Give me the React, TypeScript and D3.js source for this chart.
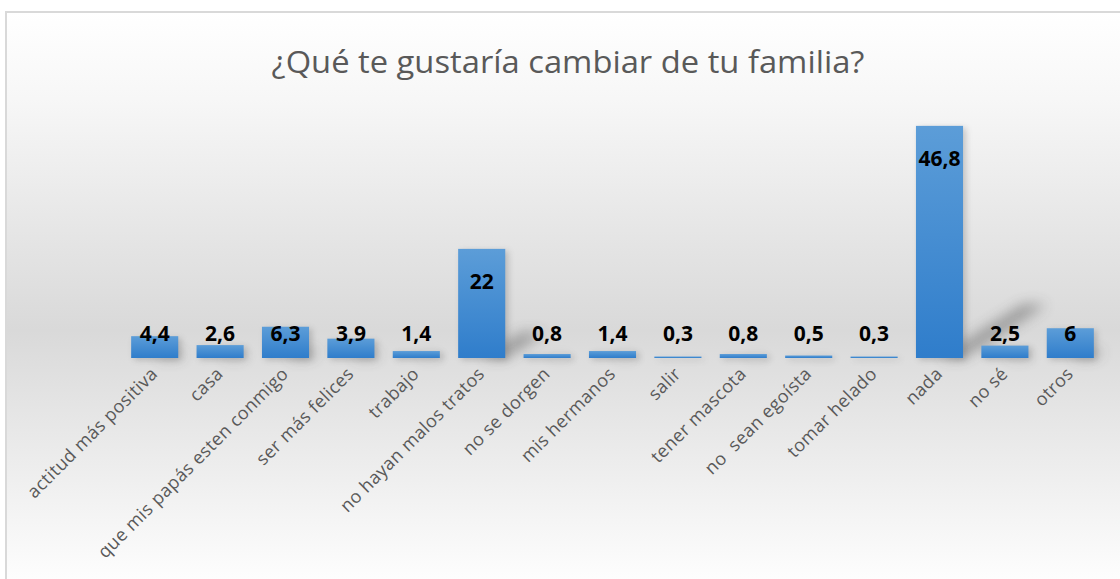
import React from 'react';
import * as d3 from 'd3';

const title = '¿Qué te gustaría cambiar de tu familia?';

const categories = [
  'actitud más positiva',
  'casa',
  'que mis papás esten conmigo',
  'ser más felices',
  'trabajo',
  'no hayan malos tratos',
  'no se dorgen',
  'mis hermanos',
  'salir',
  'tener mascota',
  'no  sean egoísta',
  'tomar helado',
  'nada',
  'no sé',
  'otros',
];

const values = [4.4, 2.6, 6.3, 3.9, 1.4, 22, 0.8, 1.4, 0.3, 0.8, 0.5, 0.3, 46.8, 2.5, 6];

const width = 1120;
const height = 579;

export default function App() {
  const ref = React.useRef<SVGSVGElement>(null);

  React.useEffect(() => {
    const svg = d3.select(ref.current);
    svg.selectAll('*').remove();

    const marginLeft = 122, marginRight = 17, baseline = 358, plotTop = 110;

    const x = d3.scaleBand<string>()
      .domain(categories)
      .range([marginLeft, width - marginRight])
      .paddingInner(0.28)
      .paddingOuter(0.14);
    const y = d3.scaleLinear().domain([0, 50]).range([baseline, plotTop]);

    const defs = svg.append('defs');
    // chart area background: white -> gray -> white
    const bg = defs.append('linearGradient').attr('id', 'bg')
      .attr('x1', 0).attr('y1', 0).attr('x2', 0).attr('y2', 1);
    bg.append('stop').attr('offset', '0%').attr('stop-color', '#ffffff');
    bg.append('stop').attr('offset', '15%').attr('stop-color', '#f7f7f7');
    bg.append('stop').attr('offset', '55%').attr('stop-color', '#d9d9d9');
    bg.append('stop').attr('offset', '70%').attr('stop-color', '#e6e6e6');
    bg.append('stop').attr('offset', '100%').attr('stop-color', '#ffffff');

    const barGrad = defs.append('linearGradient').attr('id', 'barGrad')
      .attr('x1', 0).attr('y1', 0).attr('x2', 0).attr('y2', 1);
    barGrad.append('stop').attr('offset', '0%').attr('stop-color', '#5c9dd8');
    barGrad.append('stop').attr('offset', '100%').attr('stop-color', '#2f7dcb');

    const blur = defs.append('filter').attr('id', 'blur')
      .attr('x', '-50%').attr('y', '-50%').attr('width', '200%').attr('height', '200%');
    blur.append('feGaussianBlur').attr('stdDeviation', 7);

    const soft = defs.append('filter').attr('id', 'soft')
      .attr('x', '-50%').attr('y', '-50%').attr('width', '200%').attr('height', '200%');
    soft.append('feGaussianBlur').attr('stdDeviation', 3);

    svg.append('rect')
      .attr('x', 6).attr('y', 12)
      .attr('width', width).attr('height', height)
      .attr('fill', 'url(#bg)')
      .attr('stroke', '#d9d9d9')
      .attr('stroke-width', 2);

    svg.append('text')
      .attr('x', 568).attr('y', 73)
      .attr('text-anchor', 'middle')
      .attr('font-family', 'Open Sans, sans-serif')
      .attr('font-size', 31)
      .attr('textLength', 593)
      .attr('lengthAdjust', 'spacingAndGlyphs')
      .attr('fill', '#595959')
      .text(title);

    // perspective shadows behind bars
    const shadows = svg.append('g').attr('filter', 'url(#blur)').attr('opacity', 0.45);
    values.forEach((v, i) => {
      const h = baseline - y(v);
      const x0 = x(categories[i])! + x.bandwidth();
      const dx = h * 0.36, dy = h * 0.23;
      const w = x.bandwidth() * 0.5;
      shadows.append('path')
        .attr('d', `M${x0 - w},${baseline} L${x0},${baseline} L${x0 + dx},${baseline - dy} L${x0 + dx - w},${baseline - dy}Z`)
        .attr('fill', '#404040');
    });

    svg.append('g').attr('filter', 'url(#soft)').attr('opacity', 0.25)
      .selectAll('rect')
      .data(values)
      .join('rect')
      .attr('x', (_, i) => x(categories[i])! + 3)
      .attr('y', d => y(d) + 2)
      .attr('width', x.bandwidth())
      .attr('height', d => baseline - y(d))
      .attr('fill', '#404040');

    svg.append('g')
      .selectAll('rect')
      .data(values)
      .join('rect')
      .attr('x', (_, i) => x(categories[i])!)
      .attr('y', d => y(d))
      .attr('width', x.bandwidth())
      .attr('height', d => baseline - y(d))
      .attr('fill', 'url(#barGrad)');

    const fmt = (v: number) => String(v).replace('.', ',');
    svg.append('g')
      .selectAll('text')
      .data(values)
      .join('text')
      .attr('x', (_, i) => x(categories[i])! + x.bandwidth() / 2)
      .attr('y', d => Math.min(y(d) + 40, baseline - 17))
      .attr('text-anchor', 'middle')
      .attr('font-family', 'Open Sans, sans-serif')
      .attr('font-weight', 'bold')
      .attr('font-size', 21)
      .attr('fill', '#000')
      .text(d => fmt(d));

    svg.append('g')
      .selectAll('text')
      .data(categories)
      .join('text')
      .attr('transform', d => `translate(${x(d)! + x.bandwidth() / 2 + 4},${baseline + 17}) rotate(-45)`)
      .attr('text-anchor', 'end')
      .attr('font-family', 'Open Sans, sans-serif')
      .attr('font-size', 18)
      .attr('letter-spacing', 0.4)
      .attr('fill', '#595959')
      .attr('xml:space', 'preserve')
      .text(d => d);
  }, []);

  return (
    <div style={{ position: 'fixed', left: 0, top: 0 }}>
      <svg ref={ref} width={width} height={height} style={{ display: 'block' }} />
    </div>
  );
}
